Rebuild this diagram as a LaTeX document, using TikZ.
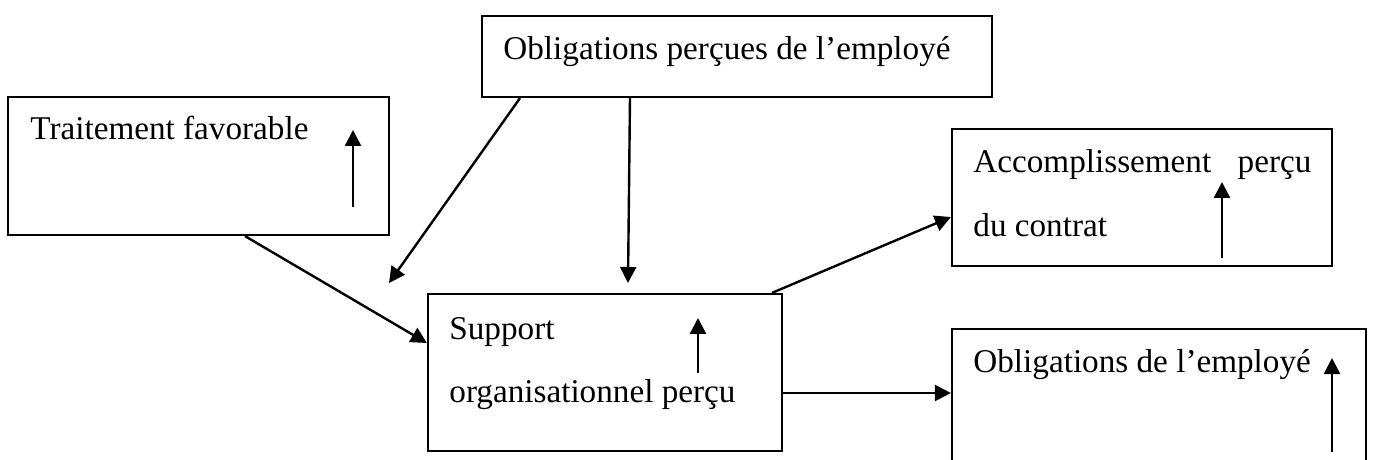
\documentclass[tikz,border=0pt]{standalone}
\usepackage{fontspec}
\setmainfont{Liberation Serif}
\usetikzlibrary{arrows.meta,fit}
\begin{document}
\begin{tikzpicture}[x=0.5pt,y=-0.5pt,
  box/.style={draw,line width=1.1pt,inner sep=0pt,rectangle},
  conn/.style={line width=1.2pt,-{Triangle[length=8pt,width=8pt]}},
  lbl/.style={anchor=base west,inner sep=0pt,font=\fontsize{16.6}{20}\selectfont}]
\clip (0,0) rectangle (1373,460);
\fill[white] (0,0) rectangle (1373,460);
% boxes
\node[box,fit={(482,16)(992,97)}] (top) {};
\node[box,fit={(8,97)(389,235)}] (trait) {};
\node[box,fit={(952,129)(1332,266)}] (acc) {};
\node[box,fit={(428,294)(782,451)}] (supp) {};
\node[box,fit={(952,329)(1366,480)}] (oblig) {};
% texts
\node[lbl] (ttop) at (503,60) {Obligations perçues de l’employé};
\node[lbl] (ttrait) at (30,140) {Traitement favorable};
\node[lbl] (tacc1) at (973,173) {\makebox[169pt][s]{Accomplissement perçu}};
\node[lbl] (tacc2) at (973,236) {du contrat};
\node[lbl] (tsupp1) at (449,340) {Support};
\node[lbl] (tsupp2) at (449,402) {organisationnel perçu};
\node[lbl] (tobl) at (973,372) {Obligations de l’employé};
% free ends
\coordinate (e1) at (389,283);
\coordinate (e2) at (628,283);
% connectors
\draw[conn] (top.south -| 520,0) -- (e1);
\draw[conn] (top.south -| 630,0) -- (e2);
\draw[conn] (trait.south -| 245,0) -- (supp.west |- 0,343);
\draw[conn] (supp.north -| 772,0) -- (acc.west |- 0,217);
\draw[conn] (supp.east |- 0,393) -- (oblig.west |- 0,393);
% small up arrows
\draw[conn] (353,207) -- (353,130);
\draw[conn] (698,373) -- (698,318);
\draw[conn] (1222,258) -- (1222,182);
\draw[conn] (1332,452) -- (1332,358);
\end{tikzpicture}
\end{document}
